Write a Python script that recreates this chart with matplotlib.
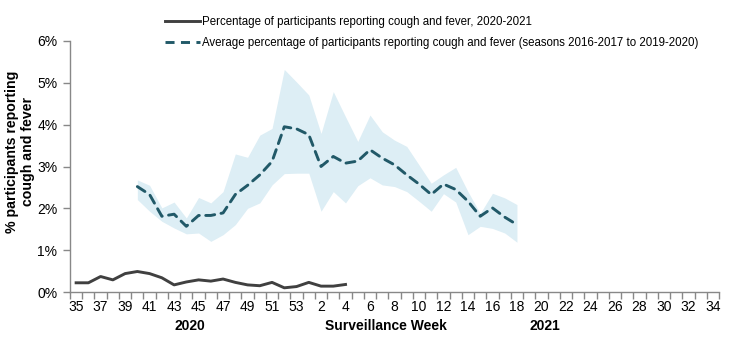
import matplotlib
matplotlib.use("Agg")
import matplotlib.pyplot as plt
from matplotlib.lines import Line2D
from matplotlib.ticker import FixedLocator, PercentFormatter
import numpy as np

plt.rcParams['font.family'] = ['Liberation Sans', 'DejaVu Sans']

weeks = list(range(35, 54)) + list(range(1, 35))

current_label = "Percentage of participants reporting cough and fever, 2020-2021"
avg_label = "Average percentage of participants reporting cough and fever (seasons 2016-2017 to 2019-2020)"

# 2020-2021 season, weeks 35..4
current = [0.22, 0.22, 0.37, 0.29, 0.44, 0.49, 0.44, 0.34, 0.17, 0.24, 0.29, 0.26,
           0.31, 0.23, 0.17, 0.15, 0.23, 0.10, 0.13, 0.23, 0.14, 0.14, 0.18]

# historical average and range, weeks 40..18
avg = [2.52, 2.33, 1.81, 1.86, 1.57, 1.83, 1.83, 1.89, 2.33, 2.55, 2.80, 3.12, 3.95, 3.90,
       3.76, 3.00, 3.24, 3.08, 3.13, 3.40, 3.20, 3.04, 2.80, 2.58, 2.33, 2.58, 2.45, 2.17,
       1.81, 2.01, 1.79, 1.61]
upper = [2.68, 2.55, 2.01, 2.15, 1.77, 2.26, 2.13, 2.40, 3.30, 3.22, 3.75, 3.91, 5.32, 5.02,
         4.71, 3.79, 4.79, 4.19, 3.60, 4.23, 3.83, 3.63, 3.48, 3.04, 2.60, 2.80, 2.98, 2.40,
         1.88, 2.36, 2.25, 2.09]
lower = [2.21, 1.93, 1.69, 1.53, 1.39, 1.41, 1.21, 1.37, 1.61, 2.00, 2.13, 2.56, 2.83, 2.84,
         2.84, 1.93, 2.40, 2.13, 2.54, 2.73, 2.56, 2.52, 2.40, 2.17, 1.93, 2.35, 2.15, 1.37,
         1.57, 1.52, 1.41, 1.19]

y_ticks = [0, 1, 2, 3, 4, 5, 6]

x_all = np.arange(len(weeks))
x_cur = x_all[:len(current)]
start = weeks.index(40)
x_avg = x_all[start:start + len(avg)]

fig = plt.figure(figsize=(7.39, 3.42), dpi=100)
ax = fig.add_axes([70/739, 1 - 292/342, 649/739, 251/342])

ax.fill_between(x_avg, lower, upper, color='#DDEEF5', linewidth=0, zorder=1)
ax.plot(x_cur, current, color='#404040', lw=2.1, zorder=3, solid_joinstyle='round')
ax.plot(x_avg, avg, color='#215968', lw=2.1, dashes=(3.1, 2.2), zorder=3,
        dash_capstyle='round')

ax.set_xlim(-0.5, len(weeks) - 0.5)
ax.set_ylim(0, 6)
ax.yaxis.set_major_locator(FixedLocator(y_ticks))
ax.yaxis.set_major_formatter(PercentFormatter(decimals=0))

lab_pos = [i for i in x_all if i % 2 == 0]
ax.set_xticks(lab_pos)
ax.set_xticklabels([str(weeks[i]) for i in lab_pos])
ax.set_xticks(np.arange(-0.5, len(weeks)), minor=True)
ax.tick_params(axis='x', which='major', length=0, pad=6, labelsize=10, colors='#000000')
ax.tick_params(axis='x', which='minor', length=5, color='#888888', width=1)
ax.tick_params(axis='y', which='major', length=5, color='#888888', width=1, labelsize=10, pad=4)

for s in ['top', 'right']:
    ax.spines[s].set_visible(False)
for s in ['left', 'bottom']:
    ax.spines[s].set_color('#888888')
    ax.spines[s].set_linewidth(1)

fig.text(20/739, 1 - 152/342, "% participants reporting\ncough and fever", rotation=90,
         ha='center', va='center', multialignment='center', fontsize=10.2,
         fontweight='bold', linespacing=1.15)

fig.text(189.5/739, 1 - 326/342, "2020", ha='center', va='center', fontsize=10, fontweight='bold')
fig.text(386/739, 1 - 326/342, "Surveillance Week", ha='center', va='center', fontsize=10, fontweight='bold')
fig.text(545/739, 1 - 326/342, "2021", ha='center', va='center', fontsize=10, fontweight='bold')

handles = [Line2D([], [], color='#404040', lw=2.1),
           Line2D([], [], color='#215968', lw=2.1, dashes=(3.1, 2.2))]
leg = fig.legend(handles, [current_label, avg_label], loc='upper left',
                 bbox_to_anchor=(165/739, 1 - 16/342), frameon=False,
                 prop={'size': 8.3},
                 handlelength=3.0, handletextpad=0.25, labelspacing=0.78, borderaxespad=0,
                 borderpad=0)

fig.savefig("out.png", dpi=100)
